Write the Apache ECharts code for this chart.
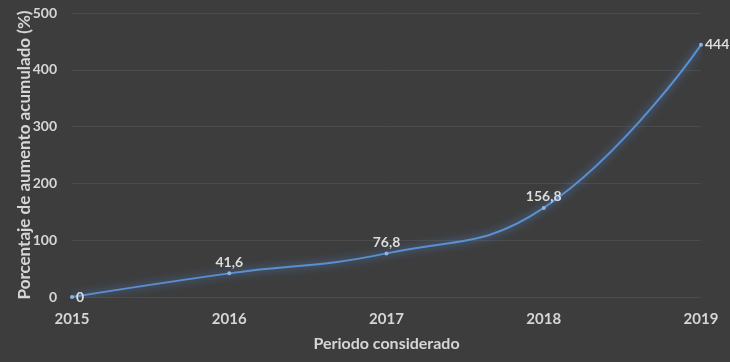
<!DOCTYPE html>
<html>
<head>
<meta charset="utf-8">
<script src="https://cdn.jsdelivr.net/npm/echarts@6/dist/echarts.min.js"></script>
<style>
html,body{margin:0;padding:0;background:#3d3d3d;}
#c{width:730px;height:362px;}
</style>
</head>
<body>
<div id="c"></div>
<script>
var categories = ['2015', '2016', '2017', '2018', '2019'];
var values = [0, 41.6, 76.8, 156.8, 444];
var labelPositions = ['right', 'top', 'top', 'top', 'right'];
var yTicks = [0, 100, 200, 300, 400, 500];

var chart = echarts.init(document.getElementById('c'));
var font = 'Lato, "Open Sans", sans-serif';
chart.setOption({
  backgroundColor: '#3d3d3d',
  grid: {left: 72, right: 29, top: 13, bottom: 65},
  xAxis: {
    type: 'category',
    data: categories,
    boundaryGap: false,
    axisLine: {show: false},
    axisTick: {show: false},
    axisLabel: {color: '#d6d6d6', fontSize: 15, fontWeight: 'bold', fontFamily: font, margin: 15},
    name: 'Periodo considerado',
    nameLocation: 'middle',
    nameGap: 39,
    nameMoveOverlap: false,
    nameTextStyle: {color: '#d6d6d6', fontSize: 16, fontWeight: 'bold', fontFamily: font}
  },
  yAxis: {
    type: 'value',
    min: yTicks[0],
    max: yTicks[yTicks.length - 1],
    interval: 100,
    axisLine: {show: false},
    axisTick: {show: false},
    splitLine: {lineStyle: {color: '#4b4b4b', width: 1}},
    axisLabel: {color: '#d6d6d6', fontSize: 14, fontWeight: 'bold', fontFamily: font, margin: 15},
    name: 'Porcentaje de aumento acumulado (%)',
    nameLocation: 'middle',
    nameGap: 39,
    nameMoveOverlap: false,
    nameTextStyle: {color: '#d6d6d6', fontSize: 17, fontWeight: 'bold', fontFamily: font}
  },
  series: [{
    type: 'line',
    smooth: 0.45,
    data: values.map(function (v, i) {
      return {value: v, label: {position: labelPositions[i]}};
    }),
    symbol: 'circle',
    symbolSize: 4,
    itemStyle: {color: '#8db3e2'},
    lineStyle: {color: '#5a8fd0', width: 2, shadowColor: 'rgba(90,150,230,0.9)', shadowBlur: 8},
    label: {
      show: true,
      color: '#dcdcdc',
      fontSize: 14,
      fontWeight: 'bold',
      fontFamily: font,
      distance: 2,
      formatter: function (p) { return String(p.value).replace('.', ','); }
    }
  }]
});
</script>
</body>
</html>
